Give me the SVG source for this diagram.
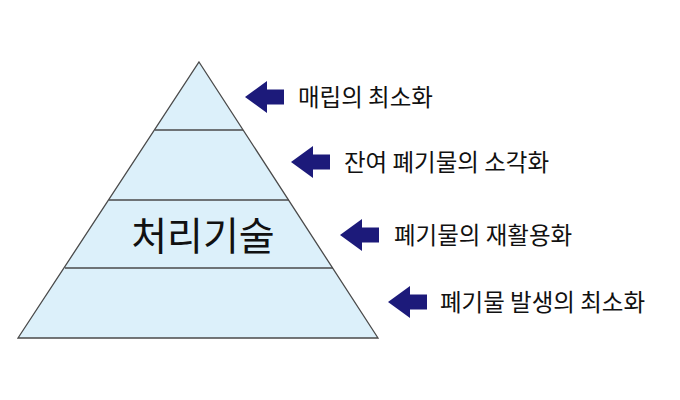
<svg xmlns="http://www.w3.org/2000/svg" width="680" height="400" viewBox="0 0 680 400">
<style>
.t{font-family:"Noto Sans CJK KR","Noto Sans",sans-serif;font-size:23.5px;fill:#111}
.a{fill:#1c1a7a}
.l{stroke:#4a4a4a;stroke-width:1.3}
</style>
<defs><path id="ar" d="M0,0 L22,-16 L22,-7.5 L39,-7.5 L39,7.5 L22,7.5 L22,16 Z"/></defs>
<rect width="680" height="400" fill="#fff"/>
<g id="pyramid">
<polygon points="199,62 378,338 18,338" fill="#dcf0fa" class="l"/>
<line x1="155" y1="130" x2="243" y2="130" class="l"/>
<line x1="109" y1="200" x2="289" y2="200" class="l"/>
<line x1="65" y1="268" x2="333" y2="268" class="l"/>
<text x="203" y="250" text-anchor="middle" style="font-family:'Noto Sans CJK KR',sans-serif;font-size:39px;fill:#111">처리기술</text>
</g>
<g id="connectors">
<use href="#ar" class="a" transform="translate(245,97)"/>
<use href="#ar" class="a" transform="translate(291,162)"/>
<use href="#ar" class="a" transform="translate(340,235)"/>
<use href="#ar" class="a" transform="translate(388,302)"/>
</g>
<g id="labels">
<text class="t" x="298" y="106">매립의 최소화</text>
<text class="t" x="344" y="171">잔여 폐기물의 소각화</text>
<text class="t" x="394" y="244">폐기물의 재활용화</text>
<text class="t" x="440" y="311">폐기물 발생의 최소화</text>
</g>
</svg>
